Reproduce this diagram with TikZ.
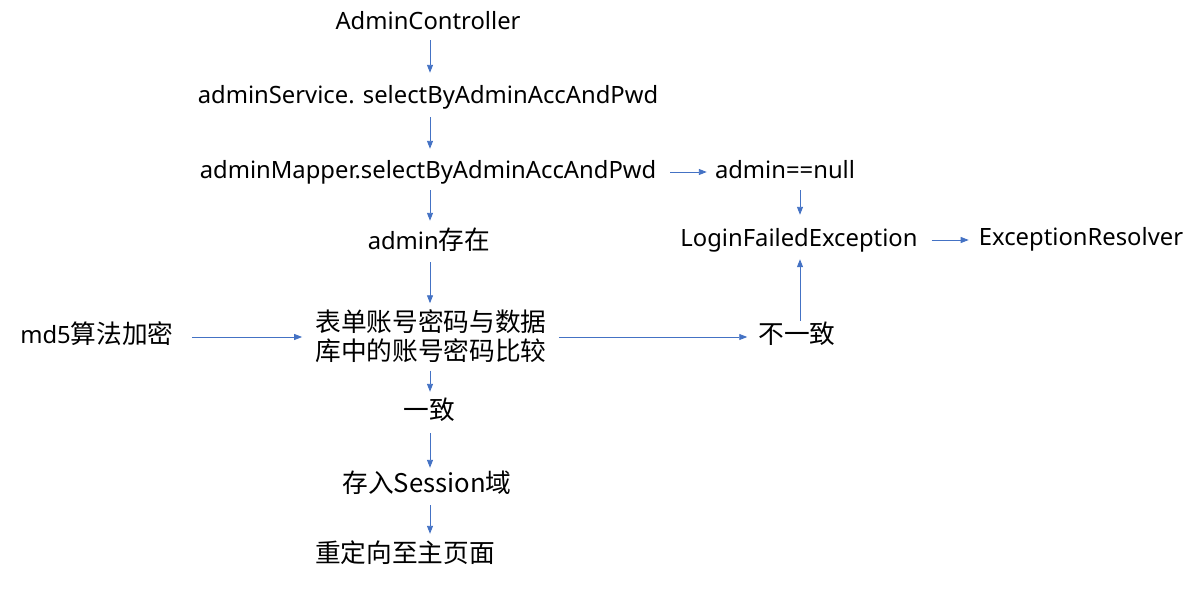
\documentclass[tikz,border=0pt]{standalone}
\usepackage{fontspec}
\setmainfont{Noto Sans}
\newfontfamily\cjk[Scale=1.08]{Noto Sans CJK SC}
\usetikzlibrary{arrows.meta}
\definecolor{arrblue}{HTML}{4472C4}
\tikzset{
  base/.style={inner sep=0pt, font=\fontsize{23.8}{29}\selectfont, anchor=center},
  lbl/.style={base, text height=17pt, text depth=5pt},
  arr/.style={draw=arrblue, line width=0.9pt, -{Triangle[length=8pt,width=6pt]}}
}
\begin{document}
\begin{tikzpicture}[x=1pt,y=-1pt]
\useasboundingbox (0,0) rectangle (1197,589);
\coordinate (ax) at (430,0);
\coordinate (bx) at (800,0);
\node[lbl] (ac) at (428,23) {AdminController};
\node[lbl] (as) at (428,97) {adminService. selectByAdminAccAndPwd};
\node[lbl] (am) at (428,172) {adminMapper.selectByAdminAccAndPwd};
\node[lbl] (null) at (785,172) {admin==null};
\node[lbl] (lfe) at (799,240) {LoginFailedException};
\node[lbl] (er) at (1081,239) {ExceptionResolver};
\node[lbl] (cz) at (429,243) {admin\cjk{存在}};
\node[base, align=center] (cmp) at (431,336) {\cjk{表单账号密码与数据}\\\cjk{库中的账号密码比较}};
\node[lbl] (md5) at (97,337) {md5\cjk{算法加密}};
\node[lbl] (byz) at (797,337) {\cjk{不一致}};
\node[lbl] (yz) at (429,413) {\cjk{一致}};
\node[lbl] (ss) at (427,486) {\cjk{存入}Session\cjk{域}};
\node[lbl] (cd) at (405,556) {\cjk{重定向至主页面}};
\draw[arr, shorten <=6pt, shorten >=13pt] (ac.south -| ax) -- (as.north -| ax);
\draw[arr, shorten <=9pt, shorten >=12pt] (as.south -| ax) -- (am.north -| ax);
\draw[arr, shorten <=7pt, shorten >=11pt] (am.south -| ax) -- (cz.north -| ax);
\draw[arr, shorten <=8pt, shorten >=6pt] (cz.south -| ax) -- (cmp.north -| ax);
\draw[arr, shorten <=8pt, shorten >=10pt] (cmp.south -| ax) -- (yz.north -| ax);
\draw[arr, shorten <=9pt, shorten >=7pt] (yz.south -| ax) -- (ss.north -| ax);
\draw[arr, shorten <=8pt, shorten >=11pt] (ss.south -| ax) -- (cd.north -| ax);
\draw[arr, shorten <=14pt, shorten >=8pt] (am.east) -- (null.west |- am.east);
\draw[arr, shorten <=7pt, shorten >=14pt] (null.south -| bx) -- (lfe.north -| bx);
\draw[arr, shorten <=14pt, shorten >=10pt] (lfe.east) -- (er.west |- lfe.east);
\draw[arr, shorten <=18pt, shorten >=13pt] (md5.east) -- (cmp.west |- md5.east);
\draw[arr, shorten <=12pt, shorten >=11pt] (cmp.east |- byz.west) -- (byz.west);
\draw[arr, shorten <=5pt, shorten >=8pt] (byz.north -| bx) -- (lfe.south -| bx);
\end{tikzpicture}
\end{document}
